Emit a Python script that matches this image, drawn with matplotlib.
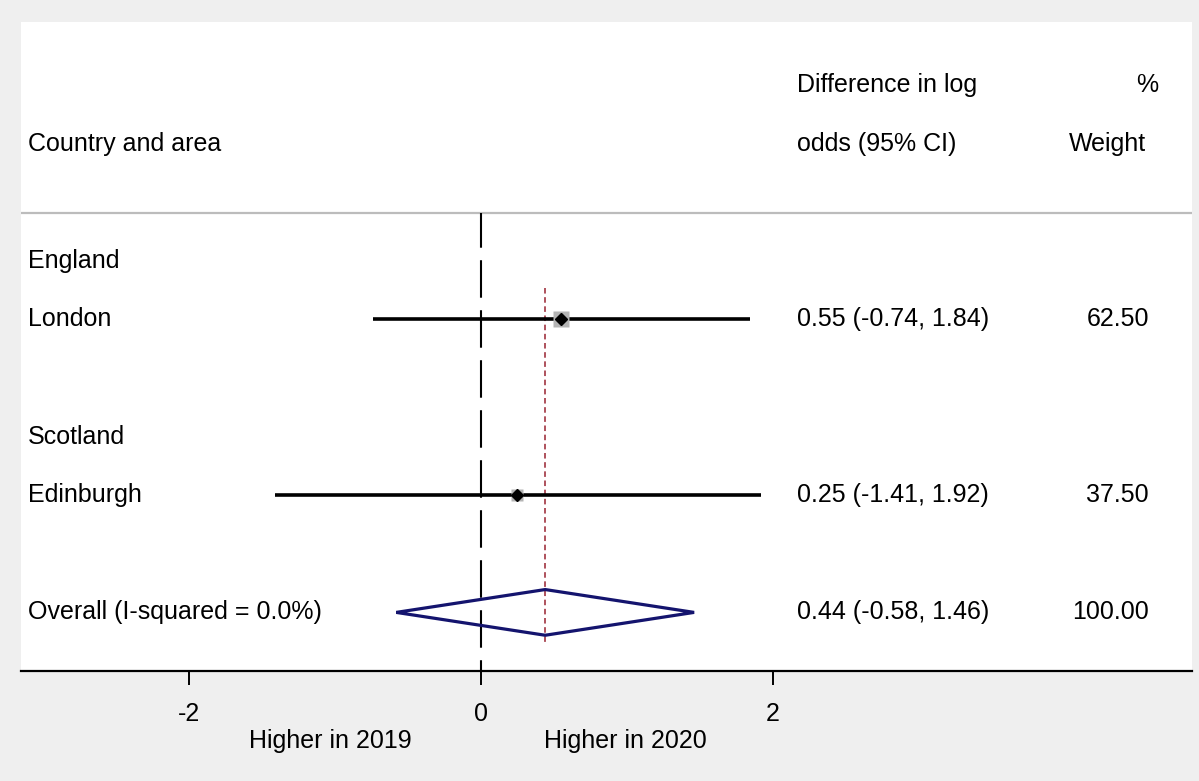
import numpy as np
import matplotlib.pyplot as plt
from matplotlib.patches import Polygon
from matplotlib.transforms import blended_transform_factory

plt.rcParams['font.family'] = ['Liberation Sans', 'DejaVu Sans']
plt.rcParams['lines.scale_dashes'] = False

# Study-level estimates (difference in log odds, 2020 vs 2019)
groups = ['England', 'Scotland']
areas = ['London', 'Edinburgh']
est = [0.55, 0.25]
ci_low = [-0.74, -1.41]
ci_high = [1.84, 1.92]
weights = [62.50, 37.50]

# Pooled estimate
overall_label = 'Overall (I-squared = 0.0%)'
overall_est = 0.44
overall_low = -0.58
overall_high = 1.46
overall_weight = 100.00

xticks = [-2, 0, 2]
favours = ['Higher in 2019', 'Higher in 2020']

FS = 18
bg = '#efefef'

fig = plt.figure(figsize=(11.99, 7.81), dpi=100, facecolor=bg)
W, H = 1199, 781
left, right, top, bottom = 21, 1192, 22, 671
ax = fig.add_axes([left / W, 1 - bottom / H, (right - left) / W, (bottom - top) / H])
ax.set_facecolor('white')

# row layout: header rows 0-1, then group / study pairs, then the pooled row
group_rows = [3 + 3 * i for i in range(len(groups))]
area_rows = [4 + 3 * i for i in range(len(areas))]
overall_row = area_rows[-1] + 2
header_line = 2.18

ax.set_xlim(-3.15, 4.87)
ax.set_ylim(10.0, -1.075)

for s in ['top', 'left', 'right']:
    ax.spines[s].set_visible(False)
ax.spines['bottom'].set_linewidth(1.6)
ax.set_yticks([])
ax.set_xticks(xticks)
ax.set_xticklabels([f'{t:g}' for t in xticks], fontsize=FS)
ax.tick_params(axis='x', length=10, width=1.4, pad=12, color='black')

# header separator
ax.axhline(header_line, color='#bcbcbc', lw=1.6)

# null line
ax.plot([0, 0], [header_line, 10.0], color='black', lw=1.5,
        linestyle=(2, (27, 9)))

# pooled estimate line
ax.plot([overall_est, overall_est], [3.46, 9.5], color='#a8434f', lw=1.3,
        linestyle=(0, (4, 2.6)))

# study confidence intervals, weight boxes and point estimates
for r, e, lo, hi, w in zip(area_rows, est, ci_low, ci_high, weights):
    ax.plot([lo, hi], [r, r], color='black', lw=2.6, solid_capstyle='butt', zorder=3)
    ax.plot(e, r, marker='s', ms=1.46 * np.sqrt(w), color='#b4b4b4', mec='none', zorder=4)
    ax.plot(e, r, marker='D', ms=6, color='black', zorder=5)

# pooled diamond
dh = 0.39
diamond = Polygon([[overall_low, overall_row], [overall_est, overall_row - dh],
                   [overall_high, overall_row], [overall_est, overall_row + dh]],
                  closed=True, fill=False, edgecolor='#14146e', lw=2.3, zorder=4)
ax.add_patch(diamond)

# text columns
tr = blended_transform_factory(ax.transAxes, ax.transData)
x_lab = 0.006
x_ci = (797 - left) / (right - left)
x_wt = (1149 - left) / (right - left)

ax.text(x_lab, 1, 'Country and area', transform=tr, fontsize=FS, va='center')
ax.text(x_ci, 0, 'Difference in log', transform=tr, fontsize=FS, va='center')
ax.text(x_ci, 1, 'odds (95% CI)', transform=tr, fontsize=FS, va='center')
ax.text((1147 - left) / (right - left), 0, '%', transform=tr, fontsize=FS, va='center', ha='center')
ax.text((1107 - left) / (right - left), 1, 'Weight', transform=tr, fontsize=FS, va='center', ha='center')

for g, r in zip(groups, group_rows):
    ax.text(x_lab, r, g, transform=tr, fontsize=FS, va='center')

for a, r, e, lo, hi, w in zip(areas, area_rows, est, ci_low, ci_high, weights):
    ax.text(x_lab, r, a, transform=tr, fontsize=FS, va='center')
    ax.text(x_ci, r, f'{e:.2f} ({lo:.2f}, {hi:.2f})', transform=tr, fontsize=FS, va='center')
    ax.text(x_wt, r, f'{w:.2f}', transform=tr, fontsize=FS, va='center', ha='right')

ax.text(x_lab, overall_row, overall_label, transform=tr, fontsize=FS, va='center')
ax.text(x_ci, overall_row,
        f'{overall_est:.2f} ({overall_low:.2f}, {overall_high:.2f})',
        transform=tr, fontsize=FS, va='center')
ax.text(x_wt, overall_row, f'{overall_weight:.2f}', transform=tr, fontsize=FS,
        va='center', ha='right')

# favours labels under the axis
ax.text(-1.03, 11.2, favours[0], fontsize=FS, ha='center', va='center', clip_on=False)
ax.text(0.99, 11.2, favours[1], fontsize=FS, ha='center', va='center', clip_on=False)

fig.savefig('out.png', dpi=100, facecolor=bg)
